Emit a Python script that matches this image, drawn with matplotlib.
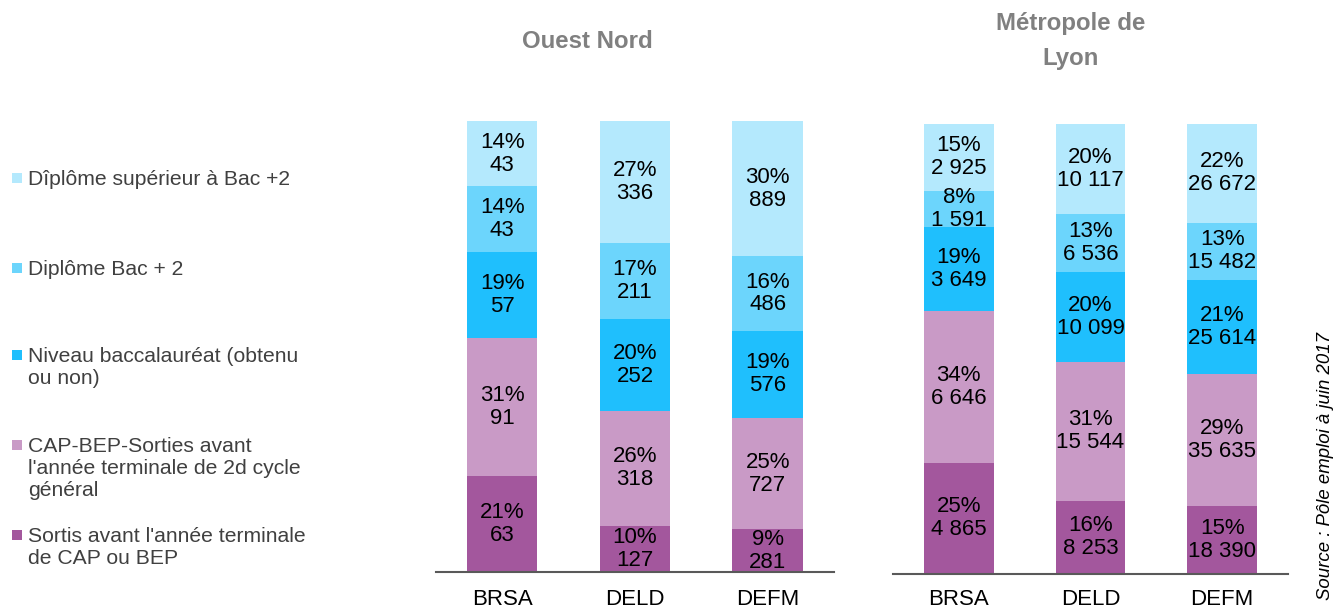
import matplotlib.pyplot as plt
from matplotlib.patches import Rectangle

plt.rcParams['font.family'] = ['Liberation Sans', 'DejaVu Sans']

# niveaux de formation, du bas vers le haut de chaque barre
niveaux = [
    "Sortis avant l'année terminale\nde CAP ou BEP",
    "CAP-BEP-Sorties avant\nl'année terminale de 2d cycle\ngénéral",
    "Niveau baccalauréat (obtenu\nou non)",
    "Diplôme Bac + 2",
    "Dîplôme supérieur à Bac +2",
]
couleurs = ["#a3579d", "#c99ac6", "#1fbffd", "#6cd5fc", "#b4e9fd"]

publics = ["BRSA", "DELD", "DEFM"]

# effectifs par niveau (même ordre que niveaux), une liste par public
ouest_nord = {
    "BRSA": [63, 91, 57, 43, 43],
    "DELD": [127, 318, 252, 211, 336],
    "DEFM": [281, 727, 576, 486, 889],
}
lyon = {
    "BRSA": [4865, 6646, 3649, 1591, 2925],
    "DELD": [8253, 15544, 10099, 6536, 10117],
    "DEFM": [18390, 35635, 25614, 15482, 26672],
}

titres = ["Ouest Nord", "Métropole de\nLyon"]


def fmt(n):
    return f"{n:,}".replace(",", " ")


fig = plt.figure(figsize=(13.35, 6.07), dpi=100)
ax1 = fig.add_axes([0.3266, 0.0577, 0.2981, 0.743])
ax2 = fig.add_axes([0.6689, 0.0544, 0.2959, 0.7414])

for ax, data, pad in [(ax1, ouest_nord, 12), (ax2, lyon, 11)]:
    for i, p in enumerate(publics):
        vals = data[p]
        total = sum(vals)
        bas = 0
        for k, v in enumerate(vals):
            part = v / total
            ax.bar(i, part, bottom=bas, width=0.53, color=couleurs[k], linewidth=0)
            ax.text(i, bas + part / 2, f"{round(part * 100)}%\n{fmt(v)}",
                    ha="center", va="center", fontsize=16, color="black",
                    linespacing=1.12)
            bas += part
    ax.set_xlim(-0.5, 2.5)
    ax.set_ylim(0, 1)
    ax.set_xticks(range(3))
    ax.set_xticklabels(publics, fontsize=16)
    ax.tick_params(axis="x", length=0, pad=pad)
    ax.set_yticks([])
    for s in ["top", "left", "right"]:
        ax.spines[s].set_visible(False)
    ax.spines["bottom"].set_color("#595959")
    ax.spines["bottom"].set_linewidth(1.5)

fig.text(587 / 1335, 1 - 41 / 607, titres[0], ha="center", va="center",
         fontsize=17.3, fontweight="bold", color="#808080")
fig.text(1071 / 1335, 1 - 41 / 607, titres[1], ha="center", va="center",
         fontsize=17.3, fontweight="bold", color="#808080", linespacing=1.65)

# légende à gauche, de haut en bas
legende_y = [178, 268, 355, 445, 535]
for lab, col, y in zip(niveaux[::-1], couleurs[::-1], legende_y):
    fig.add_artist(Rectangle((12 / 1335, 1 - (y + 5) / 607), 10 / 1335, 10 / 607,
                             transform=fig.transFigure, color=col, linewidth=0))
    fig.text(28 / 1335, 1 - (y - 8) / 607, lab, ha="left", va="top",
             fontsize=15.2, color="#404040", linespacing=1.2)

fig.text(1325 / 1335, 7 / 607, "Source : Pôle emploi à juin 2017", rotation=90,
         ha="center", va="bottom", fontsize=13.4, style="italic", color="black")

fig.savefig("out.png", dpi=100)
